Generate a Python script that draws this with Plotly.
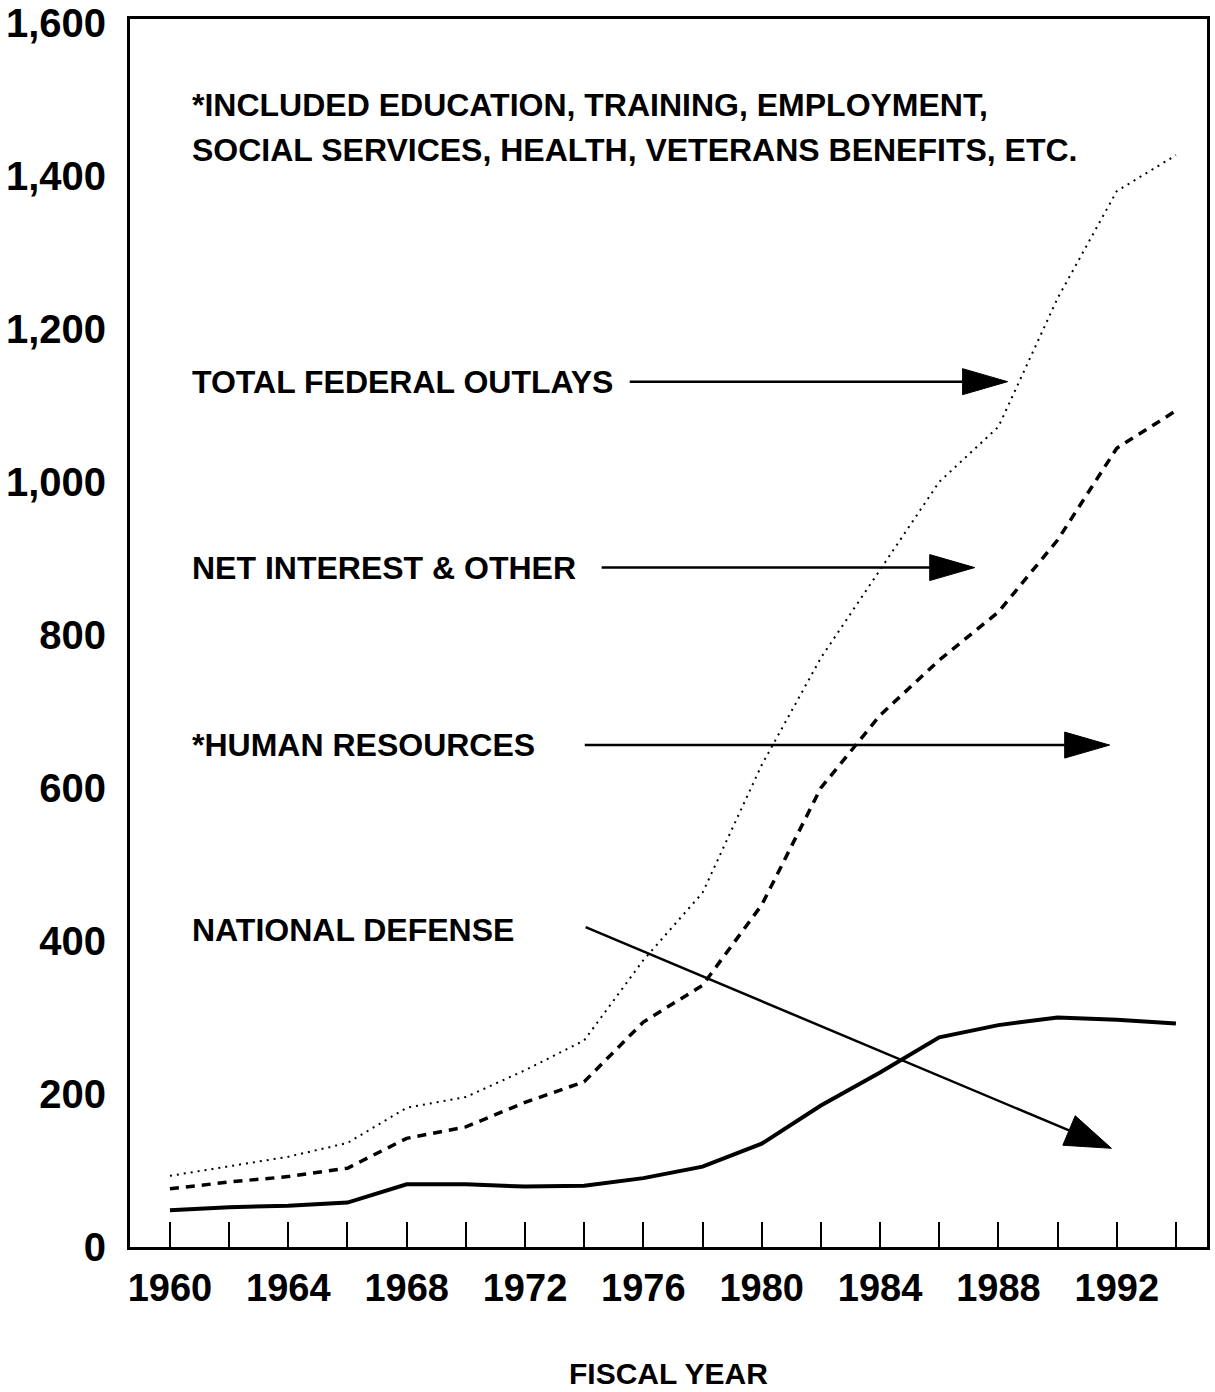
import math
import plotly.graph_objects as go

# fiscal years, one point every two years
years = [1960, 1962, 1964, 1966, 1968, 1970, 1972, 1974, 1976,
         1978, 1980, 1982, 1984, 1986, 1988, 1990, 1992, 1994]

# billions of dollars (cumulative curves)
national_defense = [48, 52, 54, 58, 82, 82, 79, 80, 90,
                    105, 135, 185, 228, 274, 290, 300, 297, 292]
human_resources = [76, 85, 92, 103, 142, 157, 189, 216, 294,
                   342, 447, 600, 695, 767, 830, 924, 1044, 1093]
total_outlays = [93, 106, 118, 136, 182, 196, 231, 270, 375,
                 463, 630, 770, 885, 1000, 1072, 1240, 1380, 1427]

x_ticks = list(range(1960, 1995, 2))
x_labels = [str(y) if y % 4 == 0 and y < 1994 else "" for y in x_ticks]
y_ticks = list(range(0, 1601, 200))
y_labels = ["{:,}".format(v) for v in y_ticks]

FONT = "Liberation Sans, Arial, Helvetica, sans-serif"

X_RANGE = [1958.65, 1995.05]
Y_RANGE = [0, 1605]
W, H = 1215, 1392
M = dict(l=130, r=8, t=19, b=145)

# pixels per data unit, used to shape the arrow heads
KX = (W - M["l"] - M["r"]) / (X_RANGE[1] - X_RANGE[0])
KY = (H - M["t"] - M["b"]) / (Y_RANGE[1] - Y_RANGE[0])

fig = go.Figure()

fig.add_trace(go.Scatter(x=years, y=total_outlays, mode="lines",
                         line=dict(color="black", width=2, dash="2px,5px"),
                         name="Total federal outlays"))
fig.add_trace(go.Scatter(x=years, y=human_resources, mode="lines",
                         line=dict(color="black", width=3.5, dash="9px,7px"),
                         name="Human resources"))
fig.add_trace(go.Scatter(x=years, y=national_defense, mode="lines",
                         line=dict(color="black", width=4),
                         name="National defense"))


def arrow(x0, y0, x1, y1, length=45, half=13):
    """shaft + filled head, computed in pixel space then mapped back"""
    X0, Y0, X1, Y1 = x0 * KX, y0 * KY, x1 * KX, y1 * KY
    d = math.hypot(X1 - X0, Y1 - Y0)
    ux, uy = (X1 - X0) / d, (Y1 - Y0) / d
    bx, by = X1 - ux * length, Y1 - uy * length
    p1 = ((bx - uy * half) / KX, (by + ux * half) / KY)
    p2 = ((bx + uy * half) / KX, (by - ux * half) / KY)
    fig.add_shape(type="line", xref="x", yref="y",
                  x0=x0, y0=y0, x1=bx / KX, y1=by / KY,
                  line=dict(color="black", width=2.5))
    path = "M{},{} L{},{} L{},{} Z".format(x1, y1, p1[0], p1[1], p2[0], p2[1])
    fig.add_shape(type="path", xref="x", yref="y", path=path,
                  fillcolor="black", line=dict(color="black", width=1))


# label text, left edge, vertical position
labels = [
    ("*INCLUDED EDUCATION, TRAINING, EMPLOYMENT,", 1960.68, 1493),
    ("SOCIAL SERVICES, HEALTH, VETERANS BENEFITS, ETC.", 1960.68, 1434),
    ("TOTAL FEDERAL OUTLAYS", 1960.68, 1131),
    ("NET INTEREST & OTHER", 1960.68, 888),
    ("*HUMAN RESOURCES", 1960.68, 656),
    ("NATIONAL DEFENSE", 1960.68, 414),
]
for txt, lx, ly in labels:
    fig.add_annotation(x=lx, y=ly, xref="x", yref="y", text=txt,
                       showarrow=False, xanchor="left", yanchor="middle",
                       font=dict(family=FONT, size=32, color="black", weight="bold"))

arrow(1975.54, 1131, 1988.31, 1131)
arrow(1974.59, 888, 1987.20, 888)
arrow(1974.02, 656, 1991.76, 656)
arrow(1974.05, 418, 1991.82, 129, length=46, half=16)

fig.add_annotation(x=0.5, y=-0.1181, xref="paper", yref="paper",
                   text="FISCAL YEAR", showarrow=False,
                   xanchor="center", yanchor="bottom",
                   font=dict(family=FONT, size=30, color="black", weight="bold"))

fig.update_layout(
    width=W, height=H,
    margin=M,
    paper_bgcolor="white",
    plot_bgcolor="white",
    showlegend=False,
    xaxis=dict(range=X_RANGE, tickvals=x_ticks, ticktext=x_labels,
               ticks="inside", ticklen=25, tickwidth=1.5, tickcolor="black",
               showline=True, linewidth=3, linecolor="black", mirror=True,
               showgrid=False, zeroline=False, ticklabelstandoff=5,
               automargin=False,
               tickfont=dict(family=FONT, size=38, color="black", weight="bold")),
    yaxis=dict(range=Y_RANGE, tickvals=y_ticks, ticktext=y_labels,
               ticks="", showline=True, linewidth=3, linecolor="black",
               mirror=True, showgrid=False, zeroline=False,
               ticklabelstandoff=13, automargin=False,
               ticklabeloverflow="allow",
               tickfont=dict(family=FONT, size=40, color="black", weight="bold")),
)

# drop the browser's default body margin so the figure fills the window
fig.write_html("out.html", config={"displayModeBar": False},
               post_script="document.body.style.margin='0';")
